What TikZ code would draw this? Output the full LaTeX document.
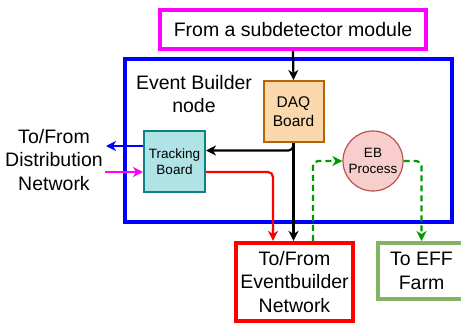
\documentclass[tikz,border=0pt]{standalone}
\usepackage{fontspec}
\setmainfont{Liberation Sans}
\usetikzlibrary{arrows.meta}
\definecolor{magentaline}{HTML}{FF00FF}
\definecolor{blueline}{HTML}{0000FF}
\definecolor{redline}{HTML}{FF0000}
\definecolor{greenline}{HTML}{82B366}
\definecolor{greendash}{HTML}{009900}
\definecolor{daqfill}{HTML}{FAD7AC}
\definecolor{daqline}{HTML}{B46504}
\definecolor{tbfill}{HTML}{B0E3E6}
\definecolor{tbline}{HTML}{0E8088}
\definecolor{ebfill}{HTML}{F8CECC}
\definecolor{ebline}{HTML}{B85450}
\tikzset{
  big/.style={font=\fontsize{19.5}{23.5}\selectfont, align=center},
  mid/.style={font=\fontsize{15.5}{19}\selectfont, align=center},
  small/.style={font=\fontsize{13.5}{16.5}\selectfont, align=center},
  frame/.style={draw, rectangle, inner sep=0pt},
  tip/.style={-{Stealth[length=10pt,width=10pt,inset=3pt]}},
  conn/.style={line width=2.2pt, rounded corners=5pt},
}
\begin{document}
\begin{tikzpicture}[x=1pt,y=-1pt]
\useasboundingbox (0,0) rectangle (461,322);
\begin{scope}
\clip (0,0) rectangle (461,322);

% outer frame of the event builder node
\node[frame, draw=blueline, line width=4.2pt, minimum width=327pt, minimum height=163pt] (ebn) at (288.5,140.5) {};
\node[big] (ebnlabel) at (194,94) {Event Builder\\node};

% source module
\node[frame, draw=magentaline, line width=3.8pt, fill=white, minimum width=266pt, minimum height=39pt, big] (src) at (293,29.5) {From a subdetector module};

% boards inside the node
\node[frame, draw=daqline, fill=daqfill, line width=2pt, minimum width=60pt, minimum height=61pt, mid] (daq) at (293.5,111.5) {DAQ\\Board};
\node[frame, draw=tbline, fill=tbfill, line width=2pt, minimum width=61pt, minimum height=61pt, small] (tb) at (174.5,161.5) {Tracking\\Board};
\node[circle, draw=ebline, fill=ebfill, line width=1.2pt, minimum size=60pt, inner sep=0pt, small] (ebp) at (373,161) {EB\\Process};

% destinations
\node[frame, draw=redline, line width=4.2pt, fill=white, minimum width=117pt, minimum height=78pt, big] (ebnet) at (294.5,282) {To/From\\Eventbuilder\\Network};
\node[frame, draw=greenline, line width=4pt, fill=white, minimum width=87pt, minimum height=56pt, big] (eff) at (421.5,271) {To EFF\\Farm};

% distribution network label
\node[big] (dist) at (54,160) {To/From\\Distribution\\Network};

% helper points for routed connectors
\coordinate (blk) at (0,150.5);
\coordinate (red) at (273,172);
\coordinate (grn) at (313,0);
\coordinate (bluetip) at (106,146);
\coordinate (magstart) at (105,172);

% data flow
\draw[tip, line width=2.2pt] (src.south) -- (daq.north);
\draw[tip, line width=2.2pt] (daq.south) -- (daq.south |- ebnet.north);
\draw[tip, conn] (daq.south) |- (tb.east |- blk);
\draw[tip, conn, draw=redline] (tb.east |- red) -| (red |- ebnet.north);
\draw[tip, line width=1.8pt, draw=blueline] (tb.west |- bluetip) -- (bluetip);
\draw[tip, line width=1.8pt, draw=magentaline] (magstart) -- (tb.west |- magstart);
\draw[tip, conn, draw=greendash, dashed, dash pattern=on 6pt off 4pt] (grn |- ebnet.north) |- (ebp.west);
\draw[tip, conn, draw=greendash, dashed, dash pattern=on 6pt off 4pt] (ebp.east) -| (eff.north);
\end{scope}
\end{tikzpicture}
\end{document}
